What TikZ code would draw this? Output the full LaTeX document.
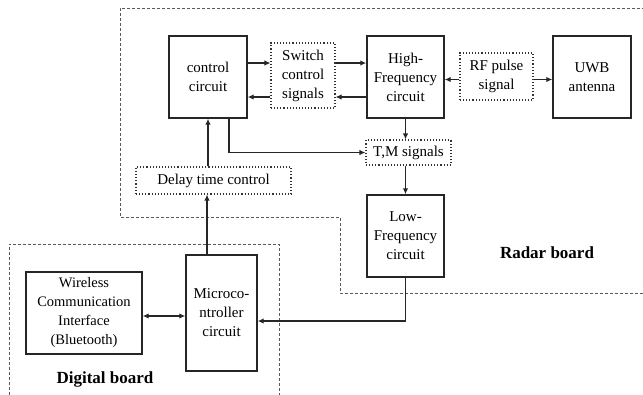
\documentclass[tikz,border=0pt]{standalone}
\usepackage{fontspec}
\setmainfont{Liberation Serif}
\usetikzlibrary{arrows.meta,calc}
\begin{document}
\begin{tikzpicture}[x=1pt,y=-1pt,
  blk/.style={draw=black!85,line width=1.4pt,align=center,inner sep=1pt,
    font=\fontsize{15}{19}\selectfont},
  sig/.style={draw=black!80,line width=1.1pt,dotted,align=center,inner sep=1pt,
    font=\fontsize{15}{19}\selectfont},
  tip/.tip={Latex[length=6pt,width=5.5pt]},
  arr/.style={draw=black!85,line width=1.4pt,-tip},
  darr/.style={draw=black!85,line width=1.4pt,tip-tip},
  board/.style={draw=black!65,line width=0.8pt,dash pattern=on 3pt off 2pt},
  boardlbl/.style={font=\fontsize{17}{20}\selectfont\bfseries}]
\useasboundingbox (0,0) rectangle (643,394);
\fill[white] (0,0) rectangle (643,394);

% board outlines
\begin{scope}
\clip (0,0) rectangle (643,394);
\draw[board] (650,8) -- (120,8) -- (120,217) -- (340,217) -- (340,293) -- (650,293);
\draw[board] (9,400) -- (9,244) -- (279,244) -- (279,400);
\end{scope}

% radar board blocks
\node[blk,minimum width=78pt,minimum height=82pt] (ctrl) at (208,77) {control\\circuit};
\node[sig,minimum width=64pt,minimum height=65pt] (sw) at (303,75.5) {Switch\\control\\signals};
\node[blk,minimum width=77pt,minimum height=82pt] (hf) at (405.5,77) {High-\\Frequency\\circuit};
\node[sig,minimum width=73pt,minimum height=47pt] (rf) at (496.5,76.5) {RF pulse\\signal};
\node[blk,minimum width=78pt,minimum height=82pt] (uwb) at (592,77) {UWB\\antenna};
\node[sig,minimum width=85pt,minimum height=25pt] (tm) at (408.5,152.5) {T,M signals};
\node[sig,minimum width=155pt,minimum height=27pt] (delay) at (213.5,180.5) {Delay time control};
\node[blk,minimum width=77pt,minimum height=82pt] (lf) at (405.5,236) {Low-\\Frequency\\circuit};

% digital board blocks
\node[blk,minimum width=71pt,minimum height=116pt] (mcu) at (221.5,313) {Microco-\\ntroller\\circuit};
\node[blk,minimum width=116pt,minimum height=82pt,font=\fontsize{14.5}{19}\selectfont] (wl) at (84,313)
  {Wireless\\Communication\\Interface\\(Bluetooth)};

% connectors
\draw[arr] ([yshift=14pt]ctrl.east) -- ([yshift=14pt]ctrl.east -| sw.west);
\draw[arr] ([yshift=-20pt]ctrl.east -| sw.west) -- ([yshift=-20pt]ctrl.east);
\draw[arr] ([yshift=14pt]ctrl.east -| sw.east) -- ([yshift=14pt]hf.west);
\draw[arr] ([yshift=-20pt]hf.west) -- ([yshift=-20pt]hf.west -| sw.east);
\draw[arr] ([yshift=-3pt]rf.west) -- ([yshift=-3pt]rf.west -| hf.east);
\draw[arr] ([yshift=-3pt]rf.east) -- ([yshift=-3pt]rf.east -| uwb.west);
\draw[arr] (hf.south) -- (hf.south |- tm.north);
\draw[arr] (lf.north |- tm.south) -- (lf.north);
\draw[arr] ([xshift=21pt]ctrl.south) |- (tm.west);
\draw[arr] (ctrl.south |- delay.north) -- (ctrl.south);
\draw[arr] ([xshift=-14.5pt]mcu.north) -- ([xshift=-14.5pt]mcu.north |- delay.south);
\draw[darr] ([yshift=-3pt]wl.east) -- ([yshift=-3pt]wl.east -| mcu.west);
\draw[arr] (lf.south) |- ([yshift=-8pt]mcu.east);

% board labels
\node[boardlbl] (radarlbl) at (547,253) {Radar board};
\node[boardlbl] (digitallbl) at (105,379) {Digital board};
\end{tikzpicture}
\end{document}
